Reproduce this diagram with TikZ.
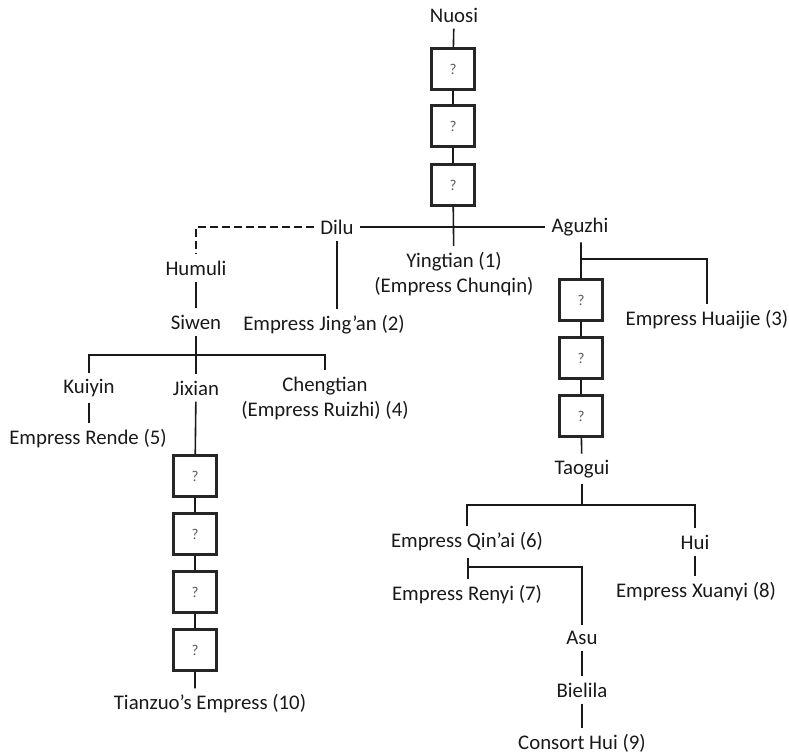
\documentclass[tikz,border=0pt]{standalone}
\usepackage{fontspec}
\setmainfont{Carlito}
\usepackage{tikz}

\begin{document}
\begin{tikzpicture}[x=0.5pt,y=-0.5pt,
  every node/.style={font=\fontsize{10.4}{12.5}\selectfont,inner sep=3pt,text=black!90},
  person/.style={align=center},
  unknown/.style={draw=black!85,line width=1.1pt,minimum width=21.5pt,minimum height=20.5pt,inner sep=0pt,font=\fontsize{7.5}{8}\selectfont,text=black!65},
  link/.style={draw=black!90,line width=0.8pt}]
\useasboundingbox (0,0) rectangle (789,755);

% top line
\node[person] (nuosi) at (454,15) {Nuosi};
\node[unknown] (t1) at (453,69) {?};
\node[unknown] (t2) at (453,126) {?};
\node[unknown] (t3) at (453,185) {?};
\node[person] (dilu) at (337,227) {Dilu};
\node[person] (aguzhi) at (580,227) {Aguzhi};
\node[person] (yingtian) at (454,274) {Yingtian (1)\\(Empress Chunqin)};
\node[person] (jingan) at (324,325) {Empress Jing’an (2)};

% Dilu branch
\node[person] (humuli) at (196,268) {Humuli};
\node[person] (siwen) at (196,322) {Siwen};
\node[person] (kuiyin) at (89,388) {Kuiyin};
\node[person] (jixian) at (196,388) {Jixian};
\node[person] (chengtian) at (325,398) {Chengtian\\(Empress Ruizhi) (4)};
\node[person] (rende) at (88,439) {Empress Rende (5)};
\node[unknown] (l1) at (195,476) {?};
\node[unknown] (l2) at (195,534) {?};
\node[unknown] (l3) at (195,592) {?};
\node[unknown] (l4) at (195,650) {?};
\node[person] (tianzuo) at (210,704) {Tianzuo’s Empress (10)};

% Aguzhi branch
\node[person] (huaijie) at (707,320) {Empress Huaijie (3)};
\node[unknown] (r1) at (581,300) {?};
\node[unknown] (r2) at (581,358) {?};
\node[unknown] (r3) at (581,416) {?};
\node[person] (taogui) at (582,469) {Taogui};
\node[person] (qinai) at (467,542) {Empress Qin’ai (6)};
\node[person] (hui) at (695,542) {Hui};
\node[person] (renyi) at (467,595) {Empress Renyi (7)};
\node[person] (xuanyi) at (696,592) {Empress Xuanyi (8)};
\node[person] (asu) at (582,638) {Asu};
\node[person] (bielila) at (582,690) {Bielila};
\node[person] (consort) at (582,743) {Consort Hui (9)};

% junctions
\coordinate (sj) at (196,355);
\coordinate (ah) at (581,259);
\coordinate (th) at (582,505);
\coordinate (qa) at (468,567);

% Connectors
\draw[link] (nuosi) -- (t1) -- (t2) -- (t3) -- (yingtian);
\draw[link] (dilu) -- (aguzhi);
\draw[link] (dilu.south) -- (dilu.south |- jingan.north);
\draw[link,dash pattern=on 4pt off 2pt] (dilu.west) -| (humuli.north);
\draw[link] (humuli) -- (siwen) -- (jixian);
\draw[link] (kuiyin) |- (sj) -| (chengtian);
\draw[link] (kuiyin) -- (kuiyin |- rende.north);
\draw[link] (jixian) -- (l1) -- (l2) -- (l3) -- (l4) -- (l4 |- tianzuo.north);
\draw[link] (aguzhi.south -| r1) -- (r1) -- (r2) -- (r3) -- (taogui);
\draw[link] (ah) -| (huaijie);
\draw[link] (taogui) -- (th);
\draw[link] (qinai) |- (th) -| (hui);
\draw[link] (hui) -- (hui |- xuanyi.north);
\draw[link] (qinai.south -| qa) -- (qa |- renyi.north);
\draw[link] (qa) -| (asu);
\draw[link] (asu) -- (bielila) -- (consort);

\end{tikzpicture}
\end{document}
